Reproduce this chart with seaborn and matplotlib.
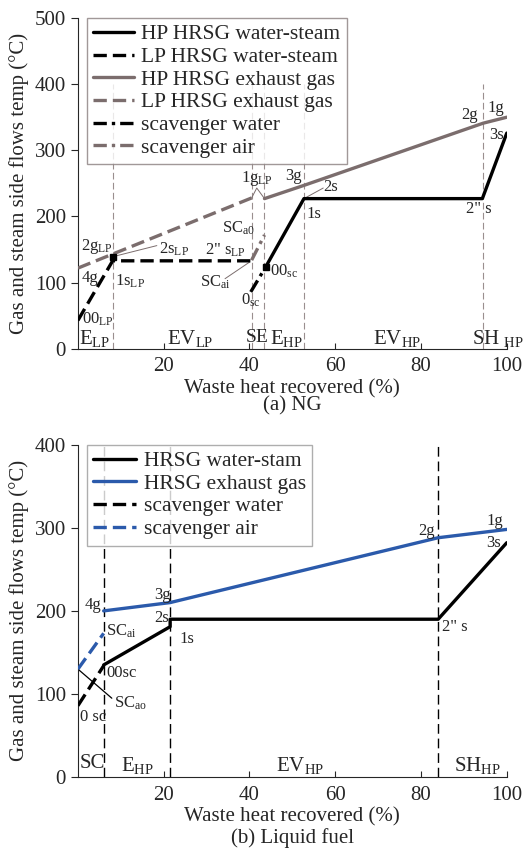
import matplotlib
matplotlib.use("Agg")
import matplotlib.pyplot as plt
import seaborn as sns

# ---------------------------------------------------------------------------
# Data
# ---------------------------------------------------------------------------
# (a) NG
ng_hp_ws_x = [43.8, 52.7, 94.3, 100]
ng_hp_ws_y = [124, 227, 227, 326]
ng_lp_ws_x = [0, 8.1, 40.5]
ng_lp_ws_y = [43, 133, 133]
ng_hp_gas_x = [43.5, 52.7, 94.5, 100]
ng_hp_gas_y = [227, 247, 341, 350]
ng_lp_gas_x = [0, 40.5]
ng_lp_gas_y = [122, 228]
ng_scav_w_x = [40.3, 43.8]
ng_scav_w_y = [86, 124]
ng_scav_a_x = [40.5, 43.5]
ng_scav_a_y = [134, 172]
ng_vlines = [8.1, 40.5, 43.5, 52.7, 94.5]

# (b) Liquid fuel
lf_ws_x = [6.0, 21.5, 21.5, 84.0, 100]
lf_ws_y = [135, 181, 190, 190, 282]
lf_gas_x = [6.0, 21.5, 84.0, 100]
lf_gas_y = [200, 210, 288, 298]
lf_scav_w_x = [0, 6.0]
lf_scav_w_y = [86, 134]
lf_scav_a_x = [0, 6.0]
lf_scav_a_y = [130, 173]
lf_vlines = [6.0, 21.5, 84.0]

xticks = [20, 40, 60, 80, 100]

# ---------------------------------------------------------------------------
# Style
# ---------------------------------------------------------------------------
sns.set_style("ticks")
plt.rcParams["font.family"] = ["Liberation Serif", "DejaVu Serif"]
plt.rcParams["mathtext.fontset"] = "custom"
plt.rcParams["mathtext.rm"] = "Liberation Serif"
plt.rcParams["mathtext.it"] = "Liberation Serif:italic"

BROWN = "#7b6d6d"
VGRAY = "#9a8f8f"
BLUE = "#2b5aab"
DASH = (0, (4, 1.8))
DASHDOT = (0, (4, 1.5, 1, 1.5))
LW = 2.4
FS_TICK = 15
FS_LEG = 15.5
FS_LBL = 12
FS_REG = 15

fig = plt.figure(figsize=(5.23, 8.55), dpi=100)
ax1 = fig.add_axes([0.149, 0.592, 0.820, 0.387])
ax2 = fig.add_axes([0.149, 0.091, 0.820, 0.389])


def line(ax, x, y, **kw):
    sns.lineplot(x=x, y=y, ax=ax, sort=False, estimator=None, zorder=3, **kw)


def style_axis(ax, ymax):
    ax.set_xlim(0, 100)
    ax.set_ylim(0, ymax)
    ax.set_xticks(xticks)
    ax.set_yticks(range(0, ymax + 1, 100))
    ax.tick_params(axis="x", direction="in", length=4, labelsize=FS_TICK, pad=6)
    ax.tick_params(axis="y", direction="out", length=5, labelsize=FS_TICK)
    for s in ["top", "right"]:
        ax.spines[s].set_visible(False)
    ax.set_xlabel("Waste heat recovered (%)", fontsize=FS_TICK, labelpad=2)
    ax.set_ylabel("Gas and steam side flows temp (\u00b0C)", fontsize=FS_TICK, labelpad=4)


def txt(ax, x, y, s, size=FS_LBL, ha="center", va="center"):
    ax.text(x, y, s, fontsize=size, ha=ha, va=va, zorder=6)


def legend(ax, edge, hl):
    leg = ax.legend(loc="upper left", bbox_to_anchor=(0.02, 1.0), fontsize=FS_LEG,
                    frameon=True, fancybox=False, edgecolor=edge,
                    handlelength=hl, handletextpad=0.35, labelspacing=0.12,
                    borderpad=0.3, borderaxespad=0.0)
    leg.get_frame().set_linewidth(1.0)
    leg.set_zorder(10)


# ---------------------------------------------------------------------------
# (a) NG
# ---------------------------------------------------------------------------
for xv in ng_vlines:
    ax1.plot([xv, xv], [0, 400], color=VGRAY, lw=0.8, ls=(0, (6, 3)), zorder=1)

line(ax1, ng_hp_ws_x, ng_hp_ws_y, color="black", lw=LW, label="HP HRSG water-steam")
line(ax1, ng_lp_ws_x, ng_lp_ws_y, color="black", lw=LW, linestyle=DASH,
     label="LP HRSG water-steam")
line(ax1, ng_hp_gas_x, ng_hp_gas_y, color=BROWN, lw=LW, label="HP HRSG exhaust gas")
line(ax1, ng_lp_gas_x, ng_lp_gas_y, color=BROWN, lw=LW, linestyle=DASH,
     label="LP HRSG exhaust gas")
line(ax1, ng_scav_w_x, ng_scav_w_y, color="black", lw=LW, linestyle=DASHDOT,
     label="scavenger water")
line(ax1, ng_scav_a_x, ng_scav_a_y, color=BROWN, lw=LW, linestyle=DASHDOT,
     label="scavenger air")

# junction markers
ax1.plot([ng_lp_ws_x[1]], [139], marker="s", ms=5, color="black", zorder=4)
ax1.plot([ng_hp_ws_x[0]], [ng_hp_ws_y[0]], marker="s", ms=5, color="black", zorder=4)

# leader lines
ax1.plot([8.6, 18.4], [140, 156], color=BROWN, lw=0.7, zorder=2)
ax1.plot([40.0, 34.3], [131, 106], color=BROWN, lw=0.7, zorder=2)
ax1.plot([52.7, 57.2], [227, 243], color=BROWN, lw=0.7, zorder=2)
ax1.plot([40.5, 41.7, 43.5], [228, 243, 227], color=BROWN, lw=0.7, zorder=2)

legend(ax1, "#8a7f7f", 1.9)

txt(ax1, 97.5, 364, "1g")
txt(ax1, 91.3, 353, "2g")
txt(ax1, 97.6, 323, "3s")
txt(ax1, 93.5, 212, "2\" s")
txt(ax1, 53.3, 204, "1s", ha="left")
txt(ax1, 57.3, 245, "2s", ha="left")
txt(ax1, 50.2, 261, "3g")
txt(ax1, 38.1, 258, r"1g$_{\rm LP}$", ha="left")
txt(ax1, 33.5, 182, r"SC$_{\rm a0}$", ha="left")
txt(ax1, 29.6, 149, '2" s$_{\\rm LP}$', ha="left")
txt(ax1, 18.8, 151, r"2s$_{\rm LP}$", ha="left")
txt(ax1, 0.8, 155, r"2g$_{\rm LP}$", ha="left")
txt(ax1, 0.8, 107, "4g", ha="left")
txt(ax1, 8.6, 102, r"1s$_{\rm LP}$", ha="left")
txt(ax1, 28.4, 101, r"SC$_{\rm ai}$", ha="left")
txt(ax1, 38.0, 73, r"0$_{\rm sc}$", ha="left")
txt(ax1, 44.7, 117, r"00$_{\rm sc}$", ha="left")
txt(ax1, 1.0, 44, r"00$_{\rm LP}$", ha="left")

txt(ax1, 0.3, 0, r"E$_{\rm LP}$", size=FS_REG, ha="left", va="bottom")
txt(ax1, 20.8, 0, r"EV$_{\rm LP}$", size=FS_REG, ha="left", va="bottom")
txt(ax1, 39.2, 4, "SE", size=FS_REG - 1, ha="left", va="bottom")
txt(ax1, 44.9, 0, r"E$_{\rm HP}$", size=FS_REG, ha="left", va="bottom")
txt(ax1, 68.8, 0, r"EV$_{\rm HP}$", size=FS_REG, ha="left", va="bottom")
txt(ax1, 91.8, 0, r"SH$\ _{\rm HP}$", size=FS_REG, ha="left", va="bottom")

style_axis(ax1, 500)
fig.text(0.559, 1 - 406 / 855, "(a) NG", fontsize=FS_TICK, ha="center", va="center")

# ---------------------------------------------------------------------------
# (b) Liquid fuel
# ---------------------------------------------------------------------------
for xv in lf_vlines:
    ax2.plot([xv, xv], [0, 400], color="black", lw=1.0, ls=(0, (7, 3.5)), zorder=1)

line(ax2, lf_ws_x, lf_ws_y, color="black", lw=LW, label="HRSG water-stam")
line(ax2, lf_gas_x, lf_gas_y, color=BLUE, lw=LW, label="HRSG exhaust gas")
line(ax2, lf_scav_w_x, lf_scav_w_y, color="black", lw=LW, linestyle=DASH,
     label="scavenger water")
line(ax2, lf_scav_a_x, lf_scav_a_y, color=BLUE, lw=LW, linestyle=DASH,
     label="scavenger air")

ax2.plot([0, 7.9], [130, 95], color="black", lw=0.9, zorder=2)

legend(ax2, "#9a9a9a", 2.0)

txt(ax2, 97.3, 308, "1g")
txt(ax2, 81.3, 296, "2g")
txt(ax2, 96.8, 282, "3s")
txt(ax2, 84.8, 181, "2\" s", ha="left")
txt(ax2, 3.6, 207, "4g")
txt(ax2, 19.8, 219, "3g")
txt(ax2, 19.5, 192, "2s")
txt(ax2, 23.6, 166, "1s", ha="left")
txt(ax2, 6.6, 175, r"SC$_{\rm ai}$", ha="left")
txt(ax2, 6.6, 125, "00sc", ha="left")
txt(ax2, 8.5, 89, r"SC$_{\rm ao}$", ha="left")
txt(ax2, 0.4, 72, "0 sc", ha="left")

txt(ax2, 0.4, 5, "SC", size=FS_REG, ha="left", va="bottom")
txt(ax2, 10.0, 1, r"E$_{\rm HP}$", size=FS_REG, ha="left", va="bottom")
txt(ax2, 46.2, 1, r"EV$_{\rm HP}$", size=FS_REG, ha="left", va="bottom")
txt(ax2, 87.6, 1, r"SH$_{\rm HP}$", size=FS_REG, ha="left", va="bottom")

style_axis(ax2, 400)
fig.text(0.559, 1 - 838 / 855, "(b) Liquid fuel", fontsize=FS_TICK, ha="center", va="center")

fig.savefig("out.png", dpi=100)
plt.close(fig)
